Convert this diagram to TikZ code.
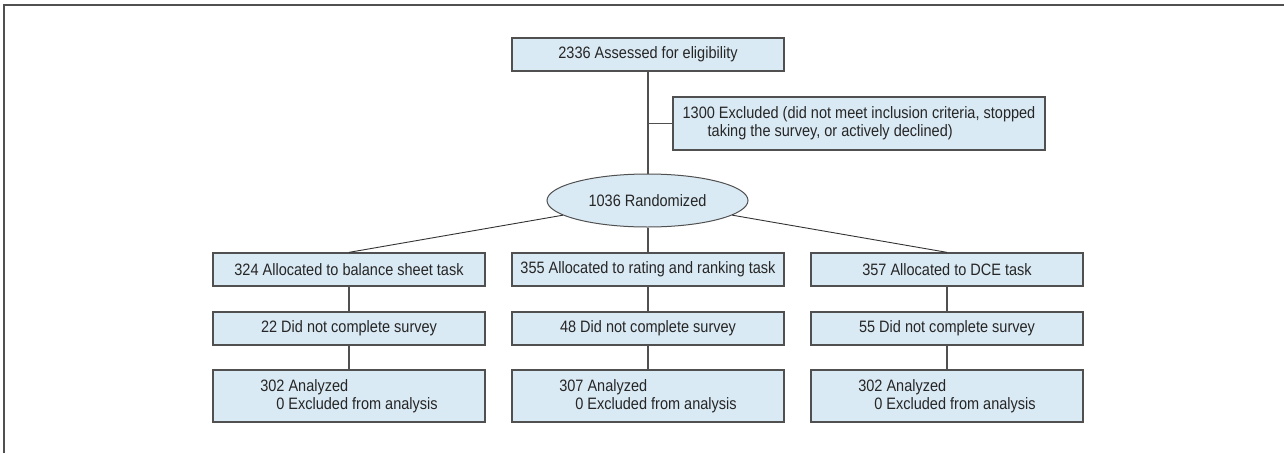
\documentclass[tikz,border=0pt]{standalone}
\usepackage{fontspec}
\setmainfont[FakeStretch=0.88]{Liberation Sans}
\usetikzlibrary{shapes.geometric}
\definecolor{boxfill}{HTML}{DAEAF4}
\definecolor{boxline}{HTML}{505050}
\definecolor{txt}{HTML}{262626}
\begin{document}
\begin{tikzpicture}[x=1pt,y=-1pt,
  box/.style={draw=boxline,line width=1.3pt,fill=boxfill,inner sep=0pt,
    minimum width=272pt,minimum height=33pt,text=txt,
    font=\fontsize{16.5}{18}\selectfont},
  tall/.style={box,minimum height=52pt,align=left},
  oval/.style={ellipse,draw=boxline,line width=1pt,fill=boxfill,inner sep=0pt,
    minimum width=201pt,minimum height=53pt,text=txt,
    font=\fontsize{16.5}{18}\selectfont},
  link/.style={draw=boxline,line width=1.4pt},
  diag/.style={draw=black!80,line width=0.9pt},
  framel/.style={draw=boxline,line width=2pt}]
\useasboundingbox (0,0) rectangle (1284,453);
\draw[framel] (4,453) -- (4,5) -- (1284,5);

\node[box] (top) at (648,54.5) {2336 Assessed for eligibility};
\node[box,minimum width=372pt,minimum height=53pt,align=left] (excl) at (859,123.5)
  {1300 Excluded (did not meet inclusion criteria, stopped\\\hspace*{25pt}taking the survey, or actively declined)};
\node[oval] (ell) at (647.5,200.5) {1036 Randomized};

\node[box] (b1) at (349,269.5) {324 Allocated to balance sheet task};
\node[box] (b2) at (648,269.5) {355 Allocated to rating and ranking task};
\node[box] (b3) at (947,269.5) {357 Allocated to DCE task};

\node[box] (c1) at (349,328.5) {22 Did not complete survey};
\node[box] (c2) at (648,328.5) {48 Did not complete survey};
\node[box] (c3) at (947,328.5) {55 Did not complete survey};

\node[tall] (d1) at (349,396) {302 Analyzed\\\hspace*{16pt}0 Excluded from analysis};
\node[tall] (d2) at (648,396) {307 Analyzed\\\hspace*{16pt}0 Excluded from analysis};
\node[tall] (d3) at (947,396) {302 Analyzed\\\hspace*{16pt}0 Excluded from analysis};

\draw[link] (top.south) -- (top.south |- ell.north);
\draw[link] (excl.west) -- (excl.west -| top.south);
\draw[diag] (ell) -- (b1.north);
\draw[link] (b2.north |- ell.south) -- (b2.north);
\draw[diag] (ell) -- (b3.north);
\draw[link] (b1.south) -- (c1.north);
\draw[link] (b2.south) -- (c2.north);
\draw[link] (b3.south) -- (c3.north);
\draw[link] (c1.south) -- (d1.north);
\draw[link] (c2.south) -- (d2.north);
\draw[link] (c3.south) -- (d3.north);
\end{tikzpicture}
\end{document}
